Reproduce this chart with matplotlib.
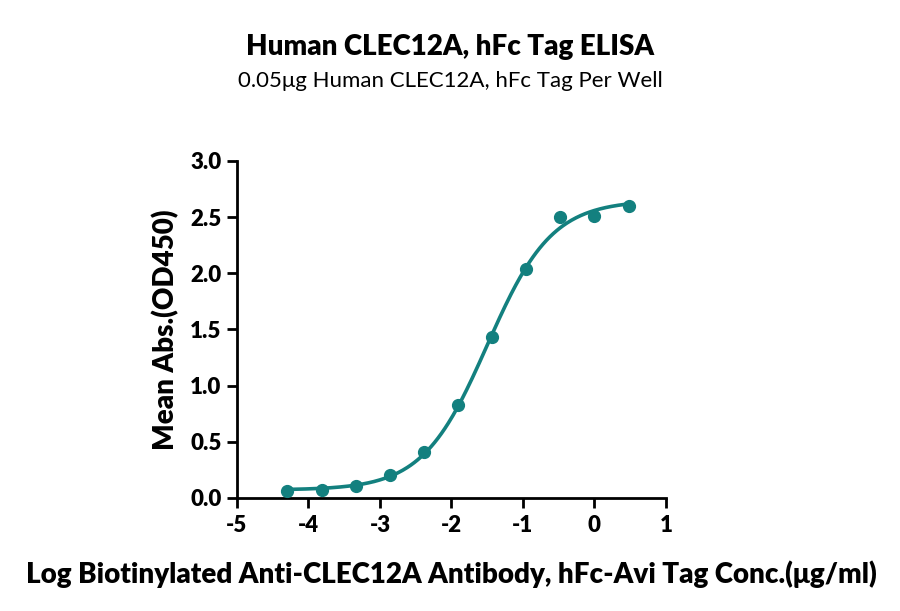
import numpy as np
import matplotlib.pyplot as plt

# log10 concentration (ug/ml), 3-fold dilution series
log_conc = [0.477, 0.0, -0.477, -0.954, -1.431, -1.908, -2.385, -2.862, -3.340, -3.817, -4.294]
mean_abs = [2.60, 2.51, 2.50, 2.04, 1.43, 0.83, 0.41, 0.20, 0.11, 0.075, 0.065]

title = 'Human CLEC12A, hFc Tag ELISA'
subtitle = '0.05\u03bcg Human CLEC12A, hFc Tag Per Well'
xlabel = 'Log Biotinylated Anti-CLEC12A Antibody, hFc-Avi Tag Conc.(\u03bcg/ml)'
ylabel = 'Mean Abs.(OD450)'
xticks = [-5, -4, -3, -2, -1, 0, 1]
yticks = [0.0, 0.5, 1.0, 1.5, 2.0, 2.5, 3.0]

color = '#13807f'
plt.rcParams['font.family'] = ['Lato', 'DejaVu Sans']

x = np.array(log_conc)
y = np.array(mean_abs)


# 4PL fit: grid over logEC50 and hill, linear least squares for bottom/top
def fit_4pl(x, y):
    best = None
    for c in np.linspace(-3, 0, 301):
        for h in np.linspace(0.4, 2.5, 211):
            s = 1.0 / (1.0 + 10 ** ((c - x) * h))
            A = np.column_stack([1 - s, s])
            coef, *_ = np.linalg.lstsq(A, y, rcond=None)
            err = np.sum((A @ coef - y) ** 2)
            if best is None or err < best[0]:
                best = (err, coef[0], coef[1], c, h)
    return best[1:]


bottom, top, ec50, hill = fit_4pl(x, y)
xs = np.linspace(x.min(), x.max(), 300)
ys = bottom + (top - bottom) / (1 + 10 ** ((ec50 - xs) * hill))

fig = plt.figure(figsize=(9, 6.11), dpi=100)
ax = fig.add_axes([0.2633, 0.185, 0.4767, 0.5516])
ax.plot(xs, ys, color=color, lw=2.6, zorder=2, clip_on=False)
ax.plot(x, y, 'o', color=color, ms=8.5, zorder=3, clip_on=False)

ax.set_xlim(-5, 1)
ax.set_ylim(0, 3)
ax.set_xticks(xticks)
ax.set_yticks(yticks)
ax.set_xticklabels([str(t) for t in xticks])
ax.set_yticklabels([f'{t:.1f}' for t in yticks])
for s in ['top', 'right']:
    ax.spines[s].set_visible(False)
for s in ['left', 'bottom']:
    ax.spines[s].set_linewidth(2)
ax.tick_params(width=2, length=7, labelsize=16)
for lab in ax.get_xticklabels() + ax.get_yticklabels():
    lab.set_fontweight('heavy')
ax.tick_params(axis='x', pad=5)
ax.tick_params(axis='y', pad=4)

ax.set_xlabel(xlabel, fontsize=20, fontweight='heavy', labelpad=18)
ax.set_ylabel(ylabel, fontsize=20, fontweight='heavy', labelpad=8)

fig.text(0.5, 0.91, title, ha='center', fontsize=20, fontweight='heavy')
fig.text(0.5, 0.857, subtitle, ha='center', fontsize=16)

fig.savefig('out.png', dpi=100)
